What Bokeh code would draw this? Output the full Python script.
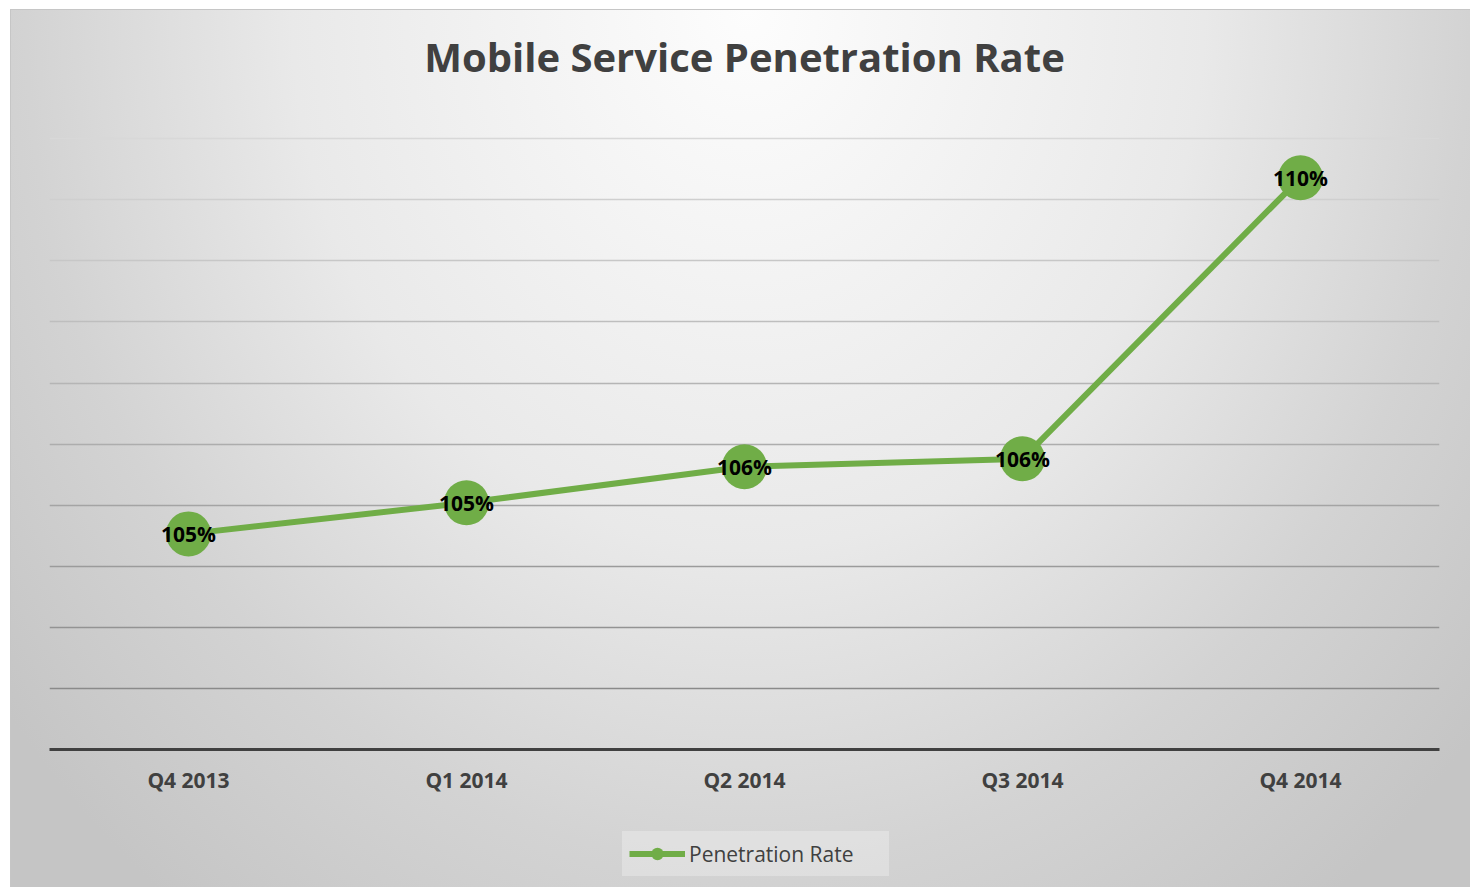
from bokeh.plotting import figure
from bokeh.layouts import column
from bokeh.models import (ColumnDataSource, FactorRange, Range1d, FixedTicker, Grid,
                          Legend, LegendItem, InlineStyleSheet, Title)
from bokeh.core.properties import value
from bokeh.embed import file_html
from bokeh.resources import INLINE

# ---- data ----
title_text = "Mobile Service Penetration Rate"
quarters = ["Q4 2013", "Q1 2014", "Q2 2014", "Q3 2014", "Q4 2014"]
penetration = [1.0453, 1.0504, 1.0563, 1.0576, 1.1036]
series_name = "Penetration Rate"
y_start, y_end, y_step, n_steps = 1.01, 1.112, 0.01, 10

labels = [f"{round(v * 100)}%" for v in penetration]
grid_values = [round(y_start + i * y_step, 4) for i in range(1, n_steps + 1)]

GREEN = "#70AD47"
DARK = "#404040"
FONT = "Open Sans"
PAGE_W, MAIN_H, LEG_H = 1470, 810, 77

# ---------------- main chart ----------------
p = figure(width=PAGE_W, height=MAIN_H,
           x_range=FactorRange(*quarters, range_padding=0),
           y_range=Range1d(y_start, y_end),
           output_backend="svg", toolbar_location=None,
           min_border_left=49, min_border_right=31,
           min_border_top=126, min_border_bottom=61)
p.background_fill_alpha = 0
p.border_fill_alpha = 0
p.outline_line_color = None

# spacer between the plot area and the title (panels stack outward from the frame)
p.add_layout(Title(text=" ", text_font_size="1px", standoff=30), "above")

p.title.text = title_text
p.title.align = "center"
p.title.text_font = FONT
p.title.text_font_style = "bold"
p.title.text_font_size = "40px"
p.title.text_color = DARK
p.title.standoff = 20

p.yaxis.visible = False
p.xgrid.visible = False
p.ygrid.visible = False


def shade(t):
    # light grey near the top of the plot, darker towards the bottom
    top, bottom = 0xD8, 0x8A
    c = round(top + (bottom - top) * t)
    return "#%02x%02x%02x" % (c, c, c)


n = len(grid_values)
for i, gv in enumerate(grid_values):
    t = (n - 1 - i) / (n - 1)
    p.add_layout(Grid(dimension=1, ticker=FixedTicker(ticks=[gv]),
                      grid_line_color=shade(t), grid_line_width=1.5))

p.xaxis.axis_line_color = DARK
p.xaxis.axis_line_width = 3
p.xaxis.major_tick_line_color = None
p.xaxis.minor_tick_line_color = None
p.xaxis.major_label_text_font = FONT
p.xaxis.major_label_text_font_style = "bold"
p.xaxis.major_label_text_font_size = "21px"
p.xaxis.major_label_text_color = DARK
p.xaxis.major_label_standoff = 10

src = ColumnDataSource(dict(q=quarters, v=penetration, lbl=labels))
p.line("q", "v", source=src, line_color=GREEN, line_width=6)
p.scatter("q", "v", source=src, size=45, fill_color=GREEN, line_color=None)
p.text("q", "v", text="lbl", source=src, text_font=value(FONT), text_font_style="bold",
       text_font_size="21px", text_color="black", text_align="center", text_baseline="middle")

# ---------------- legend strip ----------------
# same series drawn in a strip whose view lies below the data, so only the legend shows
lf = figure(width=PAGE_W, height=LEG_H,
            x_range=FactorRange(*quarters, range_padding=0), y_range=Range1d(-1, 0),
            output_backend="svg", toolbar_location=None,
            x_axis_location=None, y_axis_location=None,
            min_border_left=0, min_border_right=0, min_border_top=0, min_border_bottom=0)
lf.background_fill_alpha = 0
lf.border_fill_alpha = 0
lf.outline_line_color = None
lf.grid.visible = False
lg_line = lf.line("q", "v", source=src, line_color=GREEN, line_width=6)
lg_pt = lf.scatter("q", "v", source=src, size=12, fill_color=GREEN, line_color=None)

legend = Legend(items=[LegendItem(label=series_name, renderers=[lg_line, lg_pt])],
                location=(573, 11), orientation="horizontal",
                glyph_width=56, glyph_height=31, label_standoff=4, label_width=193,
                padding=7, margin=0, spacing=0,
                background_fill_color="white", background_fill_alpha=0.28,
                border_line_alpha=0,
                label_text_font=FONT, label_text_font_size="21px",
                label_text_color=DARK)
lf.add_layout(legend, "center")

css = """
:host {
  background:
    linear-gradient(#c6c6c6, #c6c6c6) 10px 9px / 100% 1px no-repeat,
    linear-gradient(#c6c6c6, #c6c6c6) 10px 9px / 1px 100% no-repeat,
    radial-gradient(760px 900px at 738px 0px, #fdfdfd 0%, #e9e9e9 60%, #d3d3d3 95%, #c5c5c5 125%) 10px 9px / calc(100% - 10px) calc(100% - 9px) no-repeat,
    #ffffff;
}
"""
page = column(p, lf, spacing=0, stylesheets=[InlineStyleSheet(css=css)])

open("out.html", "w").write(file_html(page, INLINE))
